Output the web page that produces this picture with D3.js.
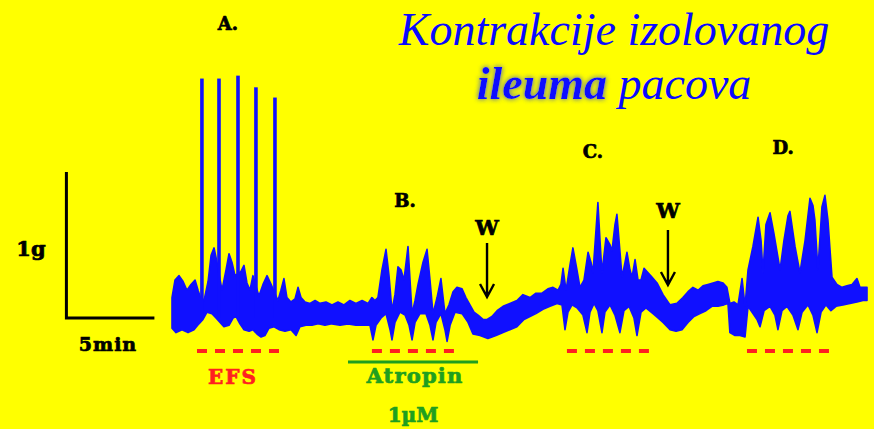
<!DOCTYPE html>
<html><head><meta charset="utf-8">
<script src="https://cdn.jsdelivr.net/npm/d3@7"></script>
<style>html,body{margin:0;padding:0;background:#ffff00;} svg{display:block}</style>
</head><body><svg id="c" width="874" height="429"></svg>
<script>
// ---- DATA (time in min, force in g) ----
const traceTop = [
[0,0.14],[0.17,0.26],[0.40,0.29],[0.63,0.25],[0.85,0.19],[1.08,0.23],[1.31,0.26],[1.48,0.19],[1.59,0.15],
[1.82,0.12],[2.05,0.25],[2.22,0.43],[2.39,0.48],[2.56,0.38],
[2.84,0.19],[3.07,0.33],[3.24,0.44],[3.41,0.38],[3.58,0.29],
[3.92,0.32],[4.09,0.36],[4.26,0.24],[4.43,0.19],[4.60,0.29],
[4.94,0.15],[5.17,0.23],[5.40,0.29],[5.63,0.23],
[6.02,0.12],[6.19,0.19],[6.36,0.27],[6.53,0.14],[6.76,0.11],[6.99,0.13],[7.16,0.21],[7.33,0.14],[7.56,0.11],
[7.84,0.10],[8.13,0.12],[8.41,0.10],[8.75,0.11],[9.09,0.09],[9.43,0.11],[9.77,0.09],[10.11,0.12],[10.45,0.10],
[10.80,0.12],[11.14,0.10],[11.36,0.14],
[11.53,0.12],[11.70,0.14],[11.93,0.33],[12.16,0.47],[12.33,0.29],[12.50,0.05],[12.67,0.16],[12.84,0.35],
[13.01,0.33],[13.18,0.26],[13.41,0.49],[13.64,0.03],[13.81,0.12],[13.98,0.23],[14.26,0.38],[14.49,0.47],
[14.66,0.26],[14.83,0.03],[15.06,0.14],[15.28,0.27],[15.51,0.03],[15.74,0.09],[15.97,0.18],[16.19,0.21],
[16.48,0.20],[16.70,0.14],[16.93,0.09],[17.16,0.04],[17.39,0.02],[17.67,-0.01],[17.90,-0.01],[18.18,0.01],
[18.47,0.05],[18.81,0.08],[19.20,0.10],[19.60,0.12],[19.94,0.16],[20.34,0.14],[20.68,0.17],[21.02,0.17],
[21.36,0.20],[21.65,0.21],[21.93,0.19],
[22.10,0.23],[22.22,0.34],[22.39,0.19],[22.61,0.36],[22.78,0.48],[23.01,0.33],[23.18,0.21],[23.41,0.26],
[23.64,0.45],[23.81,0.38],[23.92,0.31],[24.09,0.60],[24.20,0.79],[24.32,0.53],[24.43,0.31],[24.66,0.55],
[24.89,0.50],[25.00,0.46],[25.17,0.64],[25.28,0.71],[25.45,0.46],[25.57,0.28],[25.74,0.38],[25.85,0.45],
[26.02,0.33],[26.14,0.28],[26.31,0.40],[26.48,0.26],[26.65,0.26],[26.82,0.34],[27.05,0.31],[27.27,0.28],
[27.56,0.24],[27.90,0.16],[28.30,0.09],[28.69,0.10],[29.03,0.14],[29.32,0.18],[29.60,0.21],[29.89,0.19],
[30.17,0.22],[30.45,0.23],[30.74,0.24],[31.02,0.25],[31.31,0.24],
[31.53,0.21],[31.70,0.10],[31.93,0.11],[32.16,0.09],[32.39,0.27],[32.56,0.08],[32.73,0.33],[33.01,0.49],
[33.30,0.69],[33.47,0.53],[33.58,0.31],[33.75,0.64],[33.98,0.72],[34.20,0.58],[34.55,0.33],[34.77,0.53],
[35.00,0.70],[35.11,0.73],[35.40,0.49],[35.68,0.31],[35.97,0.53],[36.25,0.82],[36.42,0.77],[36.53,0.67],
[36.70,0.33],[36.93,0.76],[37.10,0.84],[37.27,0.67],[37.50,0.28],[37.78,0.23],[38.07,0.21],[38.35,0.22],
[38.64,0.23],[38.92,0.27],[39.09,0.21],[39.49,0.21]
];
const traceBottom = [
[0,-0.07],[0.23,-0.10],[0.57,-0.08],[0.91,-0.10],[1.25,-0.08],[1.53,-0.04],[1.76,-0.01],[1.99,0.04],
[2.27,0.03],[2.50,0.00],[2.73,-0.03],[2.95,-0.06],[3.24,-0.05],[3.47,0.00],[3.64,0.01],[3.86,-0.04],
[4.09,-0.08],[4.38,-0.09],[4.60,-0.08],[4.83,-0.11],[5.06,-0.13],[5.28,-0.12],[5.51,-0.07],[5.80,-0.06],
[6.08,-0.08],[6.42,-0.09],[6.76,-0.08],[7.05,-0.12],[7.27,-0.06],[7.61,-0.05],[7.95,-0.05],[8.30,-0.04],
[8.69,-0.05],[9.09,-0.04],[9.55,-0.05],[10.00,-0.04],[10.45,-0.05],[10.91,-0.05],[11.25,-0.05],
[11.42,-0.15],[11.59,-0.05],[11.88,0.00],[12.16,0.03],[12.39,-0.08],[12.50,-0.15],[12.67,-0.03],[12.95,0.04],
[13.24,0.02],[13.47,-0.05],[13.64,-0.15],[13.81,-0.03],[14.09,0.03],[14.43,0.03],[14.66,-0.05],[14.83,-0.15],
[15.00,-0.03],[15.28,0.03],[15.51,-0.08],[15.63,-0.16],[15.80,-0.05],[16.08,0.04],[16.48,0.03],[16.82,-0.03],
[17.10,-0.11],[17.50,-0.12],[17.95,-0.14],[18.41,-0.12],[18.81,-0.10],[19.20,-0.08],[19.60,-0.06],[20.00,-0.01],
[20.34,0.01],[20.68,0.03],[21.08,0.06],[21.48,0.08],[21.88,0.10],[22.16,0.09],
[22.33,-0.08],[22.50,0.04],[22.73,0.09],[23.01,0.07],[23.35,0.02],[23.58,-0.10],[23.75,0.04],[23.98,0.10],
[24.20,0.05],[24.43,-0.10],[24.60,0.04],[24.89,0.09],[25.17,0.02],[25.45,-0.10],[25.68,0.05],[25.97,0.08],
[26.25,0.00],[26.42,-0.12],[26.65,0.04],[26.93,0.07],[27.33,0.03],[27.61,0.00],[27.90,-0.03],[28.30,-0.08],
[28.64,-0.09],[28.98,-0.08],[29.32,-0.03],[29.66,0.01],[30.00,0.03],[30.34,0.05],[30.68,0.08],[31.02,0.08],
[31.36,0.09],[31.59,0.10],
[31.70,-0.10],[31.99,-0.12],[32.27,-0.12],[32.56,-0.13],[32.73,0.08],[33.01,0.03],[33.24,-0.01],[33.41,-0.06],
[33.64,0.05],[33.98,0.08],[34.26,0.02],[34.43,-0.08],[34.66,0.05],[34.94,0.08],[35.28,0.02],[35.57,-0.08],
[35.80,0.04],[36.14,0.09],[36.42,0.02],[36.65,-0.10],[36.88,0.04],[37.16,0.09],[37.44,0.05],[37.73,0.08],
[38.12,0.09],[38.52,0.10],[38.92,0.11],[39.26,0.12],[39.49,0.12]
];
// EFS-evoked twitches in section A: [time, peak force]
const stimSpikes = [[1.70,1.64],[2.67,1.64],[3.75,1.66],[4.77,1.58],[5.85,1.51]];
const sectionLabels = ["A.","B.","C.","D."];
const efsPeriods = [[1.42,6.08],[11.36,16.08],[22.44,27.10],[32.67,37.39]];
const atropinPeriod = [10.0,17.39];
const washoutTimes = [17.90,28.18];
const scaleBarTime = 5;   // min
const scaleBarForce = 1;  // g

// ---- LAYOUT ----
const svg = d3.select("#c");
const W = 874, H = 429;
svg.append("rect").attr("width",W).attr("height",H).attr("fill","#ffff00");
const x = d3.scaleLinear().domain([0,39.49]).range([172,867]);
const y = d3.scaleLinear().domain([0,1]).range([318,172]);
const blue = "#1010ff";

// glow filter for title word
const defs = svg.append("defs");
const f = defs.append("filter").attr("id","glow").attr("x","-20%").attr("y","-40%").attr("width","140%").attr("height","180%");
f.append("feGaussianBlur").attr("in","SourceAlpha").attr("stdDeviation",2.8).attr("result","b");
f.append("feFlood").attr("flood-color","#8c9a6e").attr("result","c");
f.append("feComposite").attr("in","c").attr("in2","b").attr("operator","in").attr("result","g");
const fm = f.append("feMerge");
fm.append("feMergeNode").attr("in","g");
fm.append("feMergeNode").attr("in","g");
fm.append("feMergeNode").attr("in","SourceGraphic");

// Title
const title = svg.append("text").attr("text-anchor","middle")
  .attr("font-family","Liberation Serif, Times New Roman, serif").attr("font-style","italic")
  .attr("font-size",46).attr("fill","#0a0aff");
title.append("tspan").attr("x",614).attr("y",45).text("Kontrakcije izolovanog");
const t2 = svg.append("text").attr("text-anchor","middle").attr("x",614).attr("y",99)
  .attr("font-family","Liberation Serif, Times New Roman, serif").attr("font-style","italic")
  .attr("font-size",46).attr("fill","#0a0aff");
t2.append("tspan").attr("font-weight","bold").attr("filter","url(#glow)").text("ileuma");
t2.append("tspan").text(" pacova");

// Trace
const line = d3.line().x(d=>x(d[0])).y(d=>y(d[1]));
const poly = traceTop.concat(traceBottom.slice().reverse());
svg.append("path").attr("d",line(poly)+"Z").attr("fill",blue)
  .attr("stroke",blue).attr("stroke-width",1.6).attr("stroke-linejoin","round");
svg.selectAll("line.spike").data(stimSpikes).join("line").attr("class","spike")
  .attr("x1",d=>x(d[0])).attr("x2",d=>x(d[0]))
  .attr("y1",y(0)).attr("y2",d=>y(d[1]))
  .attr("stroke",blue).attr("stroke-width",3.6);

// Scale bar
svg.append("path")
  .attr("d",`M${x(-6)},${y(scaleBarForce)}V${y(0)}H${x(-6+scaleBarTime)}`)
  .attr("fill","none").attr("stroke","#000").attr("stroke-width",3);
const bold = "DejaVu Serif, serif";
function heavy(sel, col){
  return sel.attr("font-family",bold).attr("font-weight","bold")
    .attr("fill",col).attr("stroke",col).attr("stroke-width",0.7).attr("paint-order","stroke");
}
heavy(svg.append("text").attr("x",31).attr("y",256).attr("text-anchor","middle")
  .attr("font-size",21).text("1g"),"#000");
heavy(svg.append("text").attr("x",108).attr("y",351).attr("text-anchor","middle")
  .attr("font-size",19).attr("letter-spacing",1).text("5min"),"#000");

// Section labels
const labelPos = [[3.18,30],[13.24,207],[23.92,158],[34.72,154]];
heavy(svg.selectAll("text.sec").data(sectionLabels).join("text").attr("class","sec")
  .attr("x",(d,i)=>x(labelPos[i][0])).attr("y",(d,i)=>labelPos[i][1])
  .attr("text-anchor","middle").attr("font-size",18).text(d=>d),"#000");

// Washout arrows
const washY = [[235,243,297],[218,230,285]];
washoutTimes.forEach((t,i)=>{
  const cx = x(t), [ty,a0,a1] = washY[i];
  heavy(svg.append("text").attr("x",cx).attr("y",ty).attr("text-anchor","middle")
    .attr("font-size",21).text("W"),"#000");
  svg.append("path").attr("d",`M${cx},${a0}V${a1}M${cx-7},${a1-13}L${cx},${a1}L${cx+7},${a1-13}`)
    .attr("fill","none").attr("stroke","#000").attr("stroke-width",2.4);
});

// EFS markers
svg.selectAll("line.efs").data(efsPeriods).join("line").attr("class","efs")
  .attr("x1",d=>x(d[0])).attr("x2",d=>x(d[1])).attr("y1",351).attr("y2",351)
  .attr("stroke","#ff2020").attr("stroke-width",4).attr("stroke-dasharray","10,8");
heavy(svg.append("text").attr("x",233).attr("y",384).attr("text-anchor","middle")
  .attr("font-size",20).attr("letter-spacing",2).text("EFS"),"#ff2020");

// Atropin
svg.append("line").attr("x1",x(atropinPeriod[0])).attr("x2",x(atropinPeriod[1])).attr("y1",362).attr("y2",362)
  .attr("stroke","#1f9f1f").attr("stroke-width",3);
heavy(svg.append("text").attr("x",415).attr("y",383).attr("text-anchor","middle")
  .attr("font-size",21).attr("letter-spacing",1.2).text("Atropin"),"#1f9f1f");
heavy(svg.append("text").attr("x",413).attr("y",422).attr("text-anchor","middle")
  .attr("font-size",20).text("1µM"),"#1f9f1f");
</script></body></html>
